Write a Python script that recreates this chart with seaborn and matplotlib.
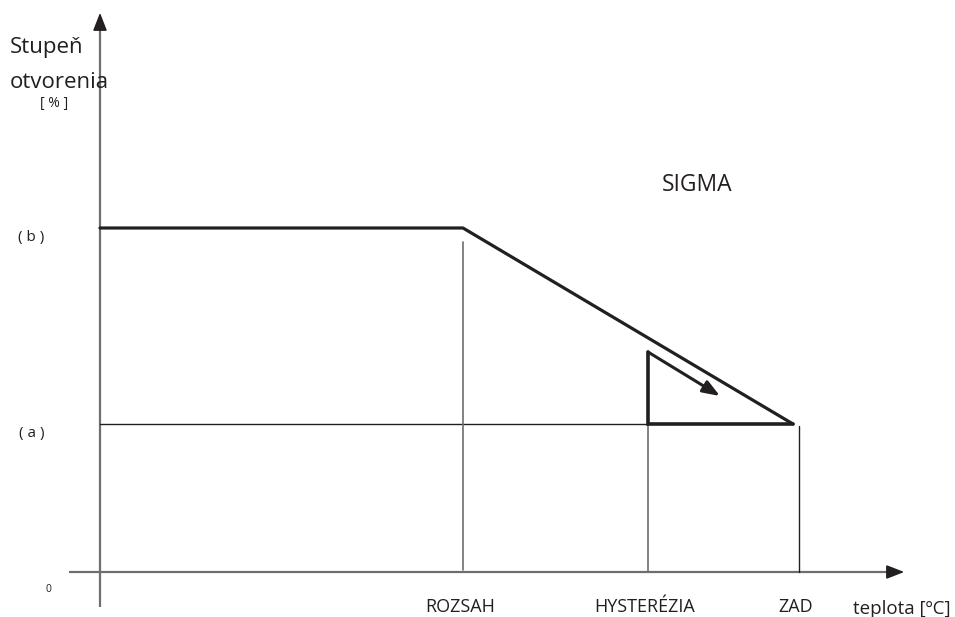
import matplotlib
matplotlib.use("Agg")
import matplotlib.pyplot as plt
import seaborn as sns
import pandas as pd

# ---- data (x: distance from origin, y: height above x-axis) ----
curve_x = [0, 363, 693]          # flat level (b) until ROZSAH, then falls to (a) at ZAD
curve_y = [344, 344, 148]
level_names = ["( b )", "( a )"]
level_values = [344, 148]
tick_names = ["ROZSAH", "HYSTERÉZIA", "ZAD"]
tick_values = [363, 548, 699]
hyst_x = [548, 548, 693]          # hysteresis triangle
hyst_y = [220, 148, 148]
arrow_from = (548, 220)
arrow_to = (620, 176)
title_text = "SIGMA"
ylabel_text = "Stupeň\notvorenia"
yunit_text = "[ % ]"
xlabel_text = "teplota [ºC]"

sns.set_theme(style="white")
plt.rcParams['font.family'] = ['Open Sans', 'DejaVu Sans']

fig = plt.figure(figsize=(9.55, 6.17), dpi=100)
ax = fig.add_axes([0, 0, 1, 1])
ax.set_xlim(-100, 855)
ax.set_ylim(-45, 572)
ax.axis("off")

dark = "#231f20"
gray = "#6d6e70"

# axes with arrows
ax.plot([0, 0], [-35, 548], color=gray, lw=1.6, solid_capstyle="butt")
ax.annotate("", xy=(0, 562), xytext=(0, 540),
            arrowprops=dict(arrowstyle="-|>,head_length=0.9,head_width=0.35", color=dark, lw=1.2))
ax.plot([-31, 795], [0, 0], color=gray, lw=1.6, solid_capstyle="butt")
ax.annotate("", xy=(807, 0), xytext=(785, 0),
            arrowprops=dict(arrowstyle="-|>,head_length=0.9,head_width=0.35", color=dark, lw=1.2))

# thin helper lines
ax.plot([0, hyst_x[0]], [level_values[1]] * 2, color=dark, lw=1.0)
ax.plot([tick_values[0]] * 2, [2, curve_y[1] - 14], color=gray, lw=1.2)
ax.plot([tick_values[1]] * 2, [0, level_values[1]], color=gray, lw=1.2)
ax.plot([tick_values[2]] * 2, [0, level_values[1] - 2], color=dark, lw=1.0)

# main characteristic
df = pd.DataFrame({"x": curve_x, "y": curve_y})
sns.lineplot(data=df, x="x", y="y", ax=ax, color=dark, lw=2.3, sort=False,
             estimator=None)

# hysteresis triangle + arrow
ax.plot(hyst_x, hyst_y, color=dark, lw=2.6, solid_joinstyle="miter")
ax.annotate("", xy=arrow_to, xytext=arrow_from,
            arrowprops=dict(arrowstyle="-|>,head_length=0.85,head_width=0.32",
                            color=dark, lw=2.2, shrinkA=0, shrinkB=0))

# texts
ax.text(-90, 525, "Stupeň", fontsize=16, color=dark, ha="left", va="center")
ax.text(-90, 489, "otvorenia", fontsize=16, color=dark, ha="left", va="center")
ax.text(-46, 469, yunit_text, fontsize=10, color=dark, ha="center", va="center")
for name, val in zip(level_names, level_values):
    ax.text(-56, val - 9, name, fontsize=11, color=dark, ha="right", va="center")
ax.text(-52, -18, "0", fontsize=7.5, color=dark, ha="center", va="center")
for name, val in zip(tick_names, tick_values):
    ax.text(val - 3, -35, name, fontsize=13, color=dark, ha="center", va="center")
ax.text(753, -37, xlabel_text, fontsize=13.5, color=dark, ha="left", va="center")
ax.text(597, 387, title_text, fontsize=16.5, color=dark, ha="center", va="center")

fig.savefig("out.png", dpi=100)
